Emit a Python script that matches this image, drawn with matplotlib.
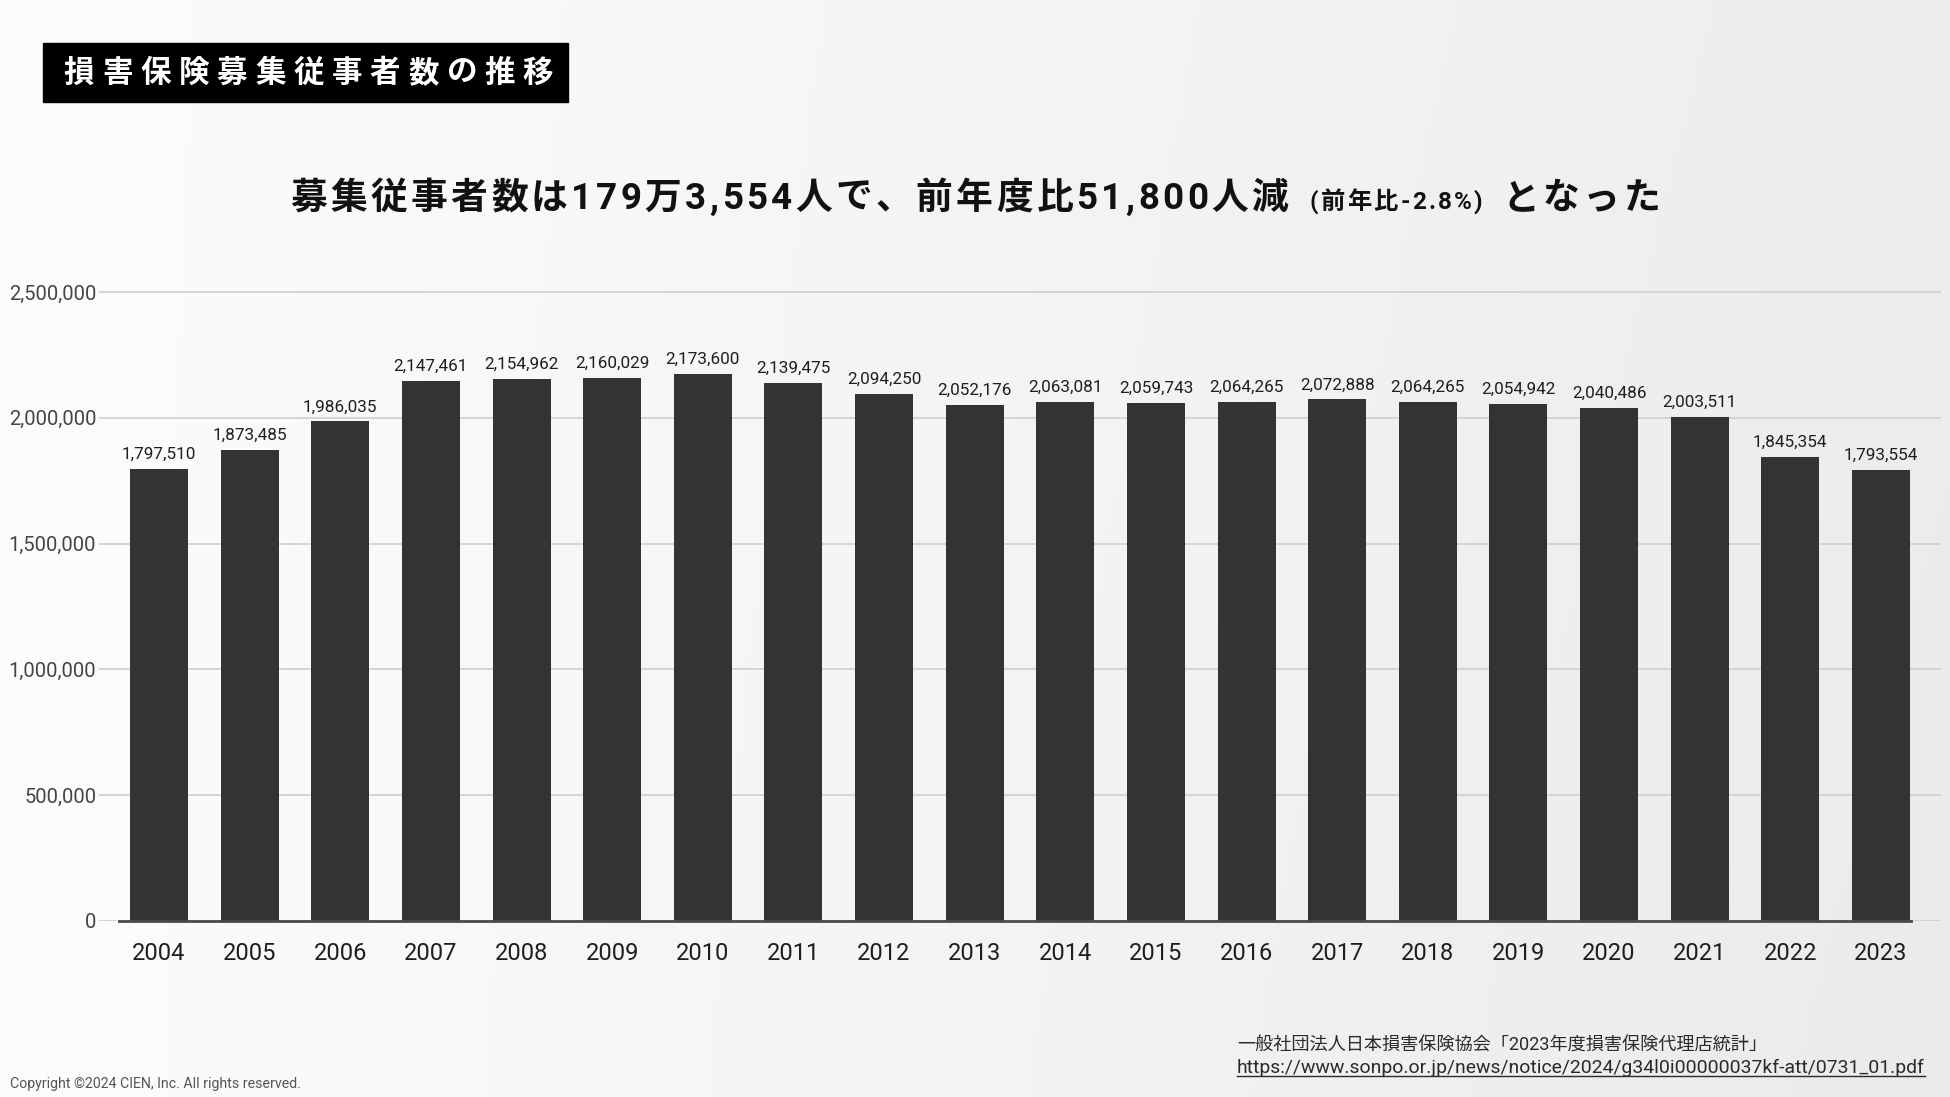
import matplotlib
matplotlib.use("Agg")
import matplotlib.pyplot as plt
import numpy as np
from matplotlib.patches import Rectangle
from matplotlib.lines import Line2D

# data
years = ["2004", "2005", "2006", "2007", "2008", "2009", "2010", "2011", "2012", "2013",
         "2014", "2015", "2016", "2017", "2018", "2019", "2020", "2021", "2022", "2023"]
workers = [1797510, 1873485, 1986035, 2147461, 2154962, 2160029, 2173600, 2139475, 2094250, 2052176,
           2063081, 2059743, 2064265, 2072888, 2064265, 2054942, 2040486, 2003511, 1845354, 1793554]
y_ticks = [0, 500000, 1000000, 1500000, 2000000, 2500000]

title = "損害保険募集従事者数の推移"
subtitle_runs = [("募集従事者数は", 26.5), ("179", 26.5), ("万", 26.5), ("3,554", 26.5),
                 ("人で、前年度比", 26.5), ("51,800", 26.5), ("人減", 26.5), (" ", 26.5),
                 ("(前年比-2.8%)", 17.5), (" ", 26.5), ("となった", 26.5)]
source_line = "一般社団法人日本損害保険協会「2023年度損害保険代理店統計」"
source_url = "https://www.sonpo.or.jp/news/notice/2024/g34l0i00000037kf-att/0731_01.pdf"
copyright_text = "Copyright ©2024 CIEN, Inc. All rights reserved."

W, H = 1950, 1097
FAM = ["Roboto", "Noto Sans CJK JP", "DejaVu Sans"]
JP = ["Noto Sans CJK JP", "DejaVu Sans"]

fig = plt.figure(figsize=(W / 100, H / 100), dpi=100)
renderer = fig.canvas.get_renderer()


def px(x, y):
    return x / W, 1 - y / H


def fit_width(t, target):
    w = t.get_window_extent(renderer).width
    t.set_fontsize(t.get_fontsize() * target / w)


def advance(ch, size):
    # width of the glyph's advance, measured between two bars
    a = fig.text(0, 0, "|" + ch + "|", fontsize=size, fontweight="bold", family=FAM)
    b = fig.text(0, 0, "||", fontsize=size, fontweight="bold", family=FAM)
    w = a.get_window_extent(renderer).width - b.get_window_extent(renderer).width
    a.remove()
    b.remove()
    return w


# soft grey gradient background
bg = fig.add_axes([0, 0, 1, 1], zorder=-5)
xx, yy = np.meshgrid(np.linspace(0, 1, 400), np.linspace(0, 1, 200))
shade = 0.99 - 0.06 * xx - 0.01 * yy * xx
bg.imshow(np.dstack([shade, shade, shade + 0.003]).clip(0, 1), extent=[0, 1, 0, 1], aspect="auto")
bg.axis("off")

# chart
y0_px, y25_px = 921, 292
per_m = (y0_px - y25_px) / 2.5
ytop = 2.53
ax = fig.add_axes([99 / W, 1 - y0_px / H, 1842 / W, ytop * per_m / H])
ax.patch.set_alpha(0)
x = np.arange(len(years))
bars = ax.bar(x, workers, width=0.64, color="#333333", zorder=3)
ax.set_xlim(-0.662, 19.662)
ax.set_ylim(0, ytop * 1e6)
ax.set_yticks(y_ticks)
ax.set_yticklabels([f"{v:,}" for v in y_ticks])
ax.set_xticks(x)
ax.set_xticklabels(years)
ax.yaxis.grid(True, color="#d2d2d2", lw=1.3)
ax.set_axisbelow(True)
for s in ax.spines.values():
    s.set_visible(False)
ax.tick_params(length=0)
ax.tick_params(axis="y", pad=2, labelsize=14.5, labelcolor="#444444")
ax.tick_params(axis="x", pad=15, labelsize=17, labelcolor="#1e1e1e")
for lab in ax.get_yticklabels():
    lab.set_family(FAM)
for lab in ax.get_xticklabels():
    lab.set_family(FAM)
ax.axhline(0, xmin=20 / 1842, xmax=1812 / 1842, color="#4a4a4a", lw=2, zorder=4, clip_on=False)
ax.bar_label(bars, labels=[f"{v:,}" for v in workers], padding=5, fontsize=12.3,
             color="#1e1e1e", family=FAM)

# title box
fig.patches.append(Rectangle(px(43, 102), 525 / W, 59 / H, transform=fig.transFigure,
                             color="black", zorder=1))
for i, ch in enumerate(title):
    fig.text(*px(79 + 38.25 * i, 73), ch, ha="center", va="center", color="white",
             fontsize=22, fontweight="bold", family=JP, zorder=2)

# subtitle with letter spacing
items = []
for text, size in subtitle_runs:
    for ch in text:
        if ch == " ":
            items.append((None, size * 0.4 * 100 / 72, size))
            continue
        t = fig.text(0, 0, ch, fontsize=size, fontweight="bold", family=FAM,
                     ha="left", va="baseline", color="#111111")
        items.append((t, advance(ch, size), size))
left, right = 290, 1660
k = (right - left - sum(w for _, w, _ in items)) / sum(s for _, _, s in items[:-1])
cur = left
for t, w, s in items:
    if t is not None:
        t.set_position(px(cur, 209))
    cur += w + k * s

# source notes
s1 = fig.text(*px(1237, 1051), source_line, fontsize=13, family=FAM, color="#2a2a2a", va="baseline")
fit_width(s1, 530)
s2 = fig.text(*px(1237, 1073), source_url, fontsize=13, family=FAM, color="#2a2a2a", va="baseline")
fit_width(s2, 684)
bb = s2.get_window_extent(renderer)
fig.add_artist(Line2D([bb.x0 / W, bb.x1 / W], [1 - 1076 / H, 1 - 1076 / H],
                      transform=fig.transFigure, color="#2a2a2a", lw=1))

c = fig.text(*px(10, 1088), copyright_text, fontsize=9, family=FAM,
             color="#555555", va="baseline")
fit_width(c, 292)

fig.savefig("out.png", dpi=100)
